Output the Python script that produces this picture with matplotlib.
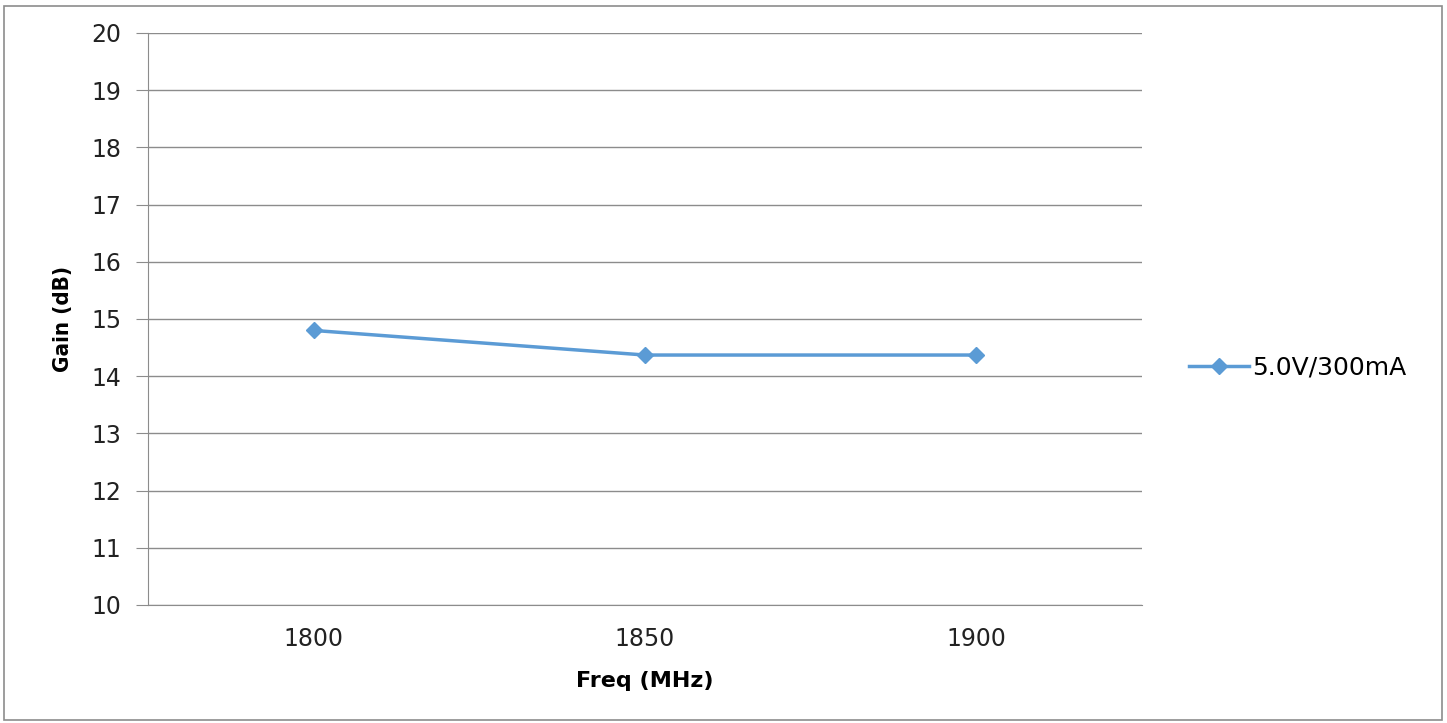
import numpy as np
import matplotlib.pyplot as plt
from matplotlib.patches import Rectangle

freq = [1800, 1850, 1900]
gain = [14.8, 14.37, 14.37]
series_name = "5.0V/300mA"
yticks = list(range(10, 21))

plt.rcParams['font.family'] = ['DejaVu Sans']

fig = plt.figure(figsize=(14.47, 7.23), dpi=100)
W, H = 1447, 723
ax = fig.add_axes([148 / W, 1 - 605 / H, (1142 - 148) / W, (605 - 33) / H])

# outer chart border
fig.patches.append(Rectangle((4 / W, 3 / H), 1438 / W, 714 / H, transform=fig.transFigure,
                             fill=False, edgecolor='#8c8c8c', linewidth=1.2))

ax.plot(freq, gain, color='#5B9BD5', linewidth=2.5, marker='D', markersize=8,
        label=series_name)

ax.set_xlim(1775, 1925)
ax.set_ylim(10, 20)
ax.set_xticks(freq)
ax.set_yticks(yticks)
ax.grid(axis='y', color='#8c8c8c', linewidth=1)
ax.set_axisbelow(True)
for s in ['top', 'right']:
    ax.spines[s].set_visible(False)
ax.spines['left'].set_color('#8c8c8c')
ax.spines['bottom'].set_color('#8c8c8c')
ax.tick_params(axis='y', length=9, color='#8c8c8c', labelsize=17, pad=10, labelcolor='#222222')
ax.tick_params(axis='x', length=0, labelsize=17, pad=16, labelcolor='#222222')

ax.set_ylabel("Gain (dB)", fontsize=16, fontweight='bold', fontstretch='condensed', labelpad=13)
ax.set_xlabel("Freq (MHz)", fontsize=16, fontweight='bold', labelpad=14)

ax.legend(loc='center left', bbox_to_anchor=(1.025, 0.415), frameon=False, fontsize=18,
          handlelength=2.4, handletextpad=0.1)

fig.savefig("out.png", dpi=100)
